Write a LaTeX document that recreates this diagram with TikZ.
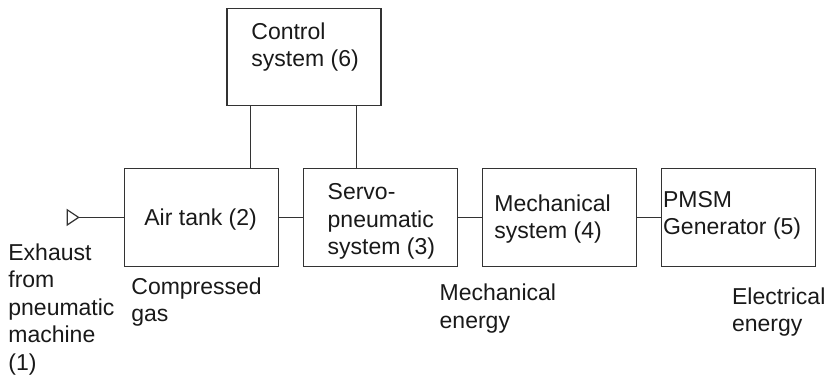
\documentclass[tikz,border=0pt]{standalone}
\usepackage{fontspec}
\setmainfont{Liberation Sans}
\usetikzlibrary{arrows.meta}
\tikzset{
  blk/.style={draw=black!80, line width=0.6pt, minimum width=77pt, minimum height=48.75pt, inner sep=0pt},
  txt/.style={anchor=base west, inner sep=0pt, align=left, text=black!90, font=\fontsize{11.5}{13.75}\selectfont},
  wire/.style={draw=black!80, line width=0.6pt}
}
\begin{document}
\begin{tikzpicture}[x=0.5pt,y=-0.5pt]
  \useasboundingbox (0,0) rectangle (827,378);
  % blocks
  \node[blk] (ctrl) at (303.9,57) {};
  \node[blk] (air) at (201.3,217.4) {};
  \node[blk] (servo) at (380.5,217.4) {};
  \node[blk] (mech) at (559.5,217.4) {};
  \node[blk] (pmsm) at (738.3,217.4) {};
  % labels (base = last line)
  \node[txt] (ctrltxt) at (251,66.8) {Control\\system (6)};
  \node[txt] (airtxt) at (144,225.7) {Air tank (2)};
  \node[txt] (servotxt) at (327.3,254.6) {Servo-\\pneumatic\\system (3)};
  \node[txt] (mechtxt) at (494,238.8) {Mechanical\\system (4)};
  \node[txt] (pmsmtxt) at (662.7,234.8) {PMSM\\Generator (5)};
  \node[txt] (exhaust) at (8,370.5) {Exhaust\\from\\pneumatic\\machine\\(1)};
  \node[txt] (gas) at (131,321.7) {Compressed\\gas};
  \node[txt] (mecheng) at (439.3,328.5) {Mechanical\\energy};
  \node[txt] (eleceng) at (731.7,332) {Electrical\\energy};
  % connectors
  \coordinate (in) at (66.7,217.4);
  \draw[wire, {Triangle[open,reversed,length=6.5pt,width=8.5pt]}-] (in) -- (air.west);
  \draw[wire] (air.east) -- (servo.west);
  \draw[wire] (servo.east) -- (mech.west);
  \draw[wire] (mech.east) -- (pmsm.west);
  \draw[wire] ([xshift=24.7pt]air.north) -- ([xshift=24.7pt]air.north |- ctrl.south);
  \draw[wire] ([xshift=-11.9pt]servo.north) -- ([xshift=-11.9pt]servo.north |- ctrl.south);
\end{tikzpicture}
\end{document}
